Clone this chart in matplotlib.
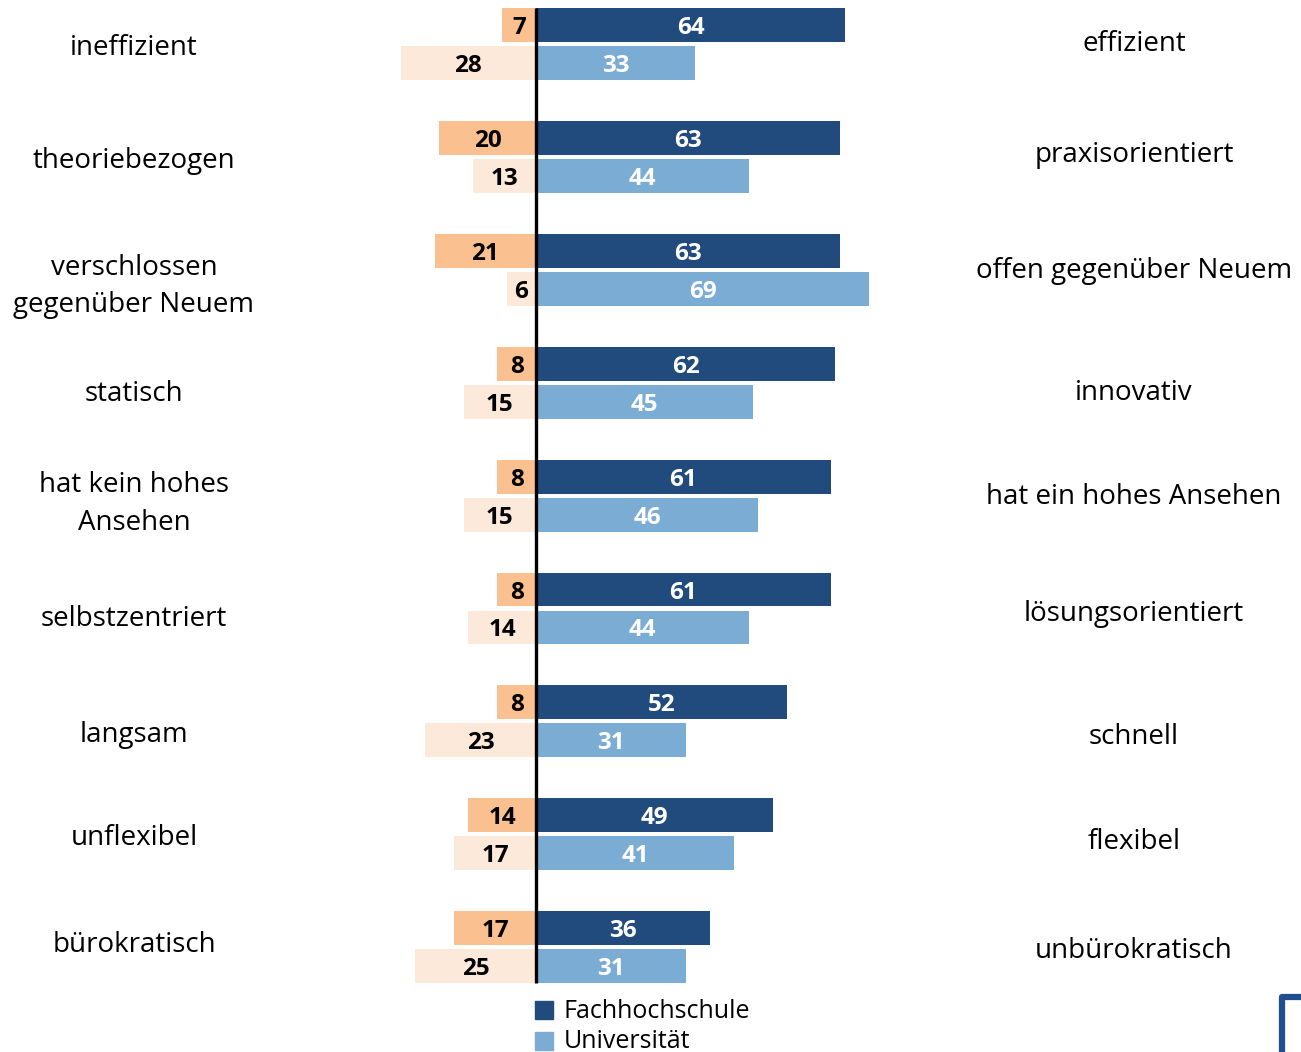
import numpy as np
import matplotlib.pyplot as plt
from matplotlib.patches import Rectangle
from matplotlib.lines import Line2D

plt.rcParams['font.family'] = ['Open Sans', 'DejaVu Sans']

left_labels = ["ineffizient", "theoriebezogen", "verschlossen\ngegenüber Neuem", "statisch",
               "hat kein hohes\nAnsehen", "selbstzentriert", "langsam", "unflexibel", "bürokratisch"]
right_labels = ["effizient", "praxisorientiert", "offen gegenüber Neuem", "innovativ",
                "hat ein hohes Ansehen", "lösungsorientiert", "schnell", "flexibel", "unbürokratisch"]

# percentages: positive pole (right) and negative pole (left)
fh_pos = [64, 63, 63, 62, 61, 61, 52, 49, 36]
uni_pos = [33, 44, 69, 45, 46, 44, 31, 41, 31]
fh_neg = [7, 20, 21, 8, 8, 8, 8, 14, 17]
uni_neg = [28, 13, 6, 15, 15, 14, 23, 17, 25]

c_fh = "#214A7D"
c_uni = "#7BACD4"
c_fh_neg = "#FAC08F"
c_uni_neg = "#FDE9D9"

W, H = 1301, 1052
fig = plt.figure(figsize=(W / 100, H / 100), dpi=100)
ax = fig.add_axes([0, 0, 1, 1])

px = 4.83       # pixels per percent
x0 = 536        # centre line in pixels
gap = 112.9     # pixels between groups
y0 = 44         # first group centre in pixels
ax.set_xlim(-x0 / px, (W - x0) / px)
ax.set_ylim((H - y0) / gap, -y0 / gap)
ax.axis("off")

n = len(fh_pos)
y = np.arange(n)
off = 0.168
h = 0.30
dy = 3 / gap    # small downward nudge for text

# label placement nudges in pixels (layout only)
left_nudge = [0, 0, 12, 7, 4, 6, 9, -1, -7]
right_nudge = [0, -2, 1, 10, 1, 5, 16, 8, 4]

ax.barh(y - off, fh_pos, height=h, color=c_fh)
ax.barh(y + off, uni_pos, height=h, color=c_uni)
ax.barh(y - off, [-v for v in fh_neg], height=h, color=c_fh_neg)
ax.barh(y + off, [-v for v in uni_neg], height=h, color=c_uni_neg)

ax.plot([0, 0], [-off - h / 2, n - 1 + off + h / 2], color="black", lw=2.4, solid_capstyle="butt")

fs_val = 17.5
fs_lab = 20
for i in range(n):
    ax.text(fh_pos[i] / 2, i - off + dy, str(fh_pos[i]), color="white", fontsize=fs_val,
            fontweight="bold", ha="center", va="center")
    ax.text(uni_pos[i] / 2, i + off + dy, str(uni_pos[i]), color="white", fontsize=fs_val,
            fontweight="bold", ha="center", va="center")
    ax.text(-fh_neg[i] / 2, i - off + dy, str(fh_neg[i]), color="black", fontsize=fs_val,
            fontweight="bold", ha="center", va="center")
    ax.text(-uni_neg[i] / 2, i + off + dy, str(uni_neg[i]), color="black", fontsize=fs_val,
            fontweight="bold", ha="center", va="center")
    ax.text((134 - x0) / px, i + 1.5 * dy + left_nudge[i] / gap, left_labels[i], fontsize=fs_lab,
            ha="center", va="center", linespacing=1.45)
    ax.text((1134 - x0) / px, i + right_nudge[i] / gap, right_labels[i], fontsize=fs_lab,
            ha="center", va="center")

# legend
for k, (lab, col) in enumerate([("Fachhochschule", c_fh), ("Universität", c_uni)]):
    top = 1001 + k * 31
    fig.add_artist(Rectangle((535 / W, 1 - (top + 18) / H), 18 / W, 18 / H,
                             transform=fig.transFigure, color=col))
    fig.text(564 / W, 1 - (top + 10) / H, lab, fontsize=18, va="center", ha="left")

# logo corner
fig.add_artist(Line2D([1282 / W, 1282 / W, 1.0], [0, 1 - 997 / H, 1 - 997 / H],
                      transform=fig.transFigure, color="#1F4E8F", lw=4.5))

fig.savefig("out.png", dpi=100)
